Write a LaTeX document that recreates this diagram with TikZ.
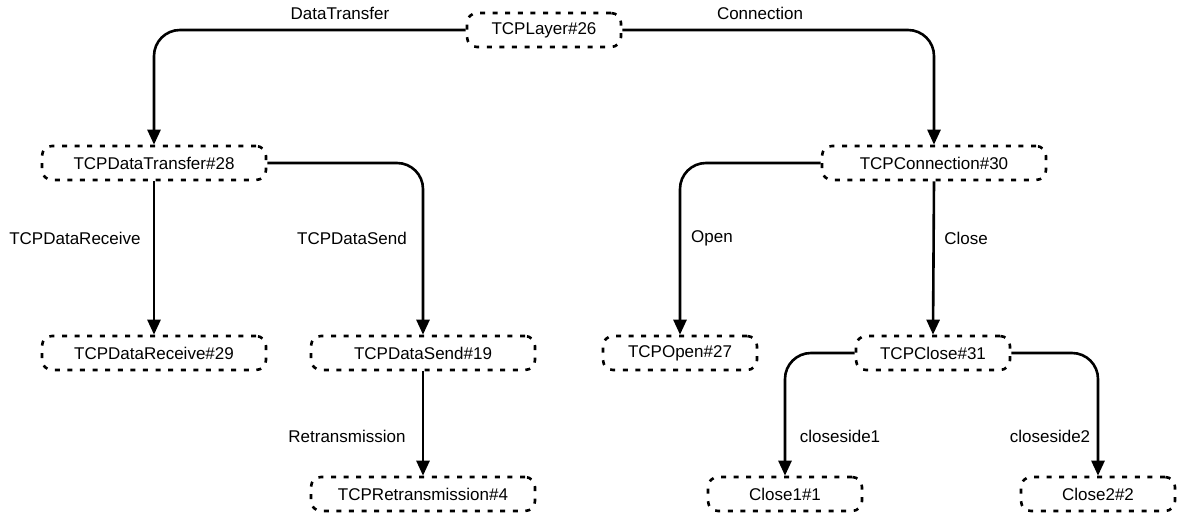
\documentclass[tikz,border=0pt]{standalone}
\usepackage{fontspec}
\setmainfont{Liberation Sans}
\usetikzlibrary{arrows.meta,positioning}

\begin{document}
\begin{tikzpicture}[x=1pt,y=-1pt,
  font=\fontsize{17}{20}\selectfont,
  layer/.style={draw,line width=2.6pt,dash pattern=on 5pt off 7.6pt,
    rounded corners=10pt,minimum height=34pt,inner sep=0pt},
  small/.style={layer,minimum width=154pt},
  wide/.style={layer,minimum width=224pt},
  link/.style={line width=2.6pt,rounded corners=26pt,
    -{Triangle[length=15pt,width=13pt]}},
  lbl/.style={inner sep=0pt}]

  \useasboundingbox (0,0) rectangle (1177,516);

  % nodes
  \node[small] (tcplayer) at (544,30)  {TCPLayer\#26};
  \node[wide]  (xfer)     at (154,163) {TCPDataTransfer\#28};
  \node[wide]  (conn)     at (934,163) {TCPConnection\#30};
  \node[wide]  (recv)     at (154,353) {TCPDataReceive\#29};
  \node[wide]  (send)     at (423,353) {TCPDataSend\#19};
  \node[small] (open)     at (680,353) {TCPOpen\#27};
  \node[small] (close)    at (933,353) {TCPClose\#31};
  \node[wide]  (retrans)  at (423,494) {TCPRetransmission\#4};
  \node[small] (closeA)   at (785,494) {Close1\#1};
  \node[small] (closeB)   at (1098,494) {Close2\#2};

  % connectors
  \draw[link] (tcplayer.west) -| (xfer.north);
  \draw[link] (tcplayer.east) -| (conn.north);
  \draw[link] (xfer.south) -- (recv.north);
  \draw[link] (xfer.east) -| (send.north);
  \draw[link] (conn.west) -| (open.north);
  \draw[link] (conn.south) -- (close.north);
  \draw[link] (send.south) -- (retrans.north);
  \draw[link] (close.west) -| (closeA.north);
  \draw[link] (close.east) -| (closeB.north);

  % labels
  \node[lbl] (lxfer)    at (340,13)  {DataTransfer};
  \node[lbl] (lconn)    at (760,13)  {Connection};
  \node[lbl] (lrecv)    at (75,238)  {TCPDataReceive};
  \node[lbl] (lsend)    at (352,238) {TCPDataSend};
  \node[lbl] (lopen)    at (712,238) {Open};
  \node[lbl] (lclose)   at (966,238) {Close};
  \node[lbl] (lretrans) at (347,436) {Retransmission};
  \node[lbl] (lcloseA)  at (840,436) {closeside1};
  \node[lbl] (lcloseB)  at (1050,436) {closeside2};
\end{tikzpicture}
\end{document}
